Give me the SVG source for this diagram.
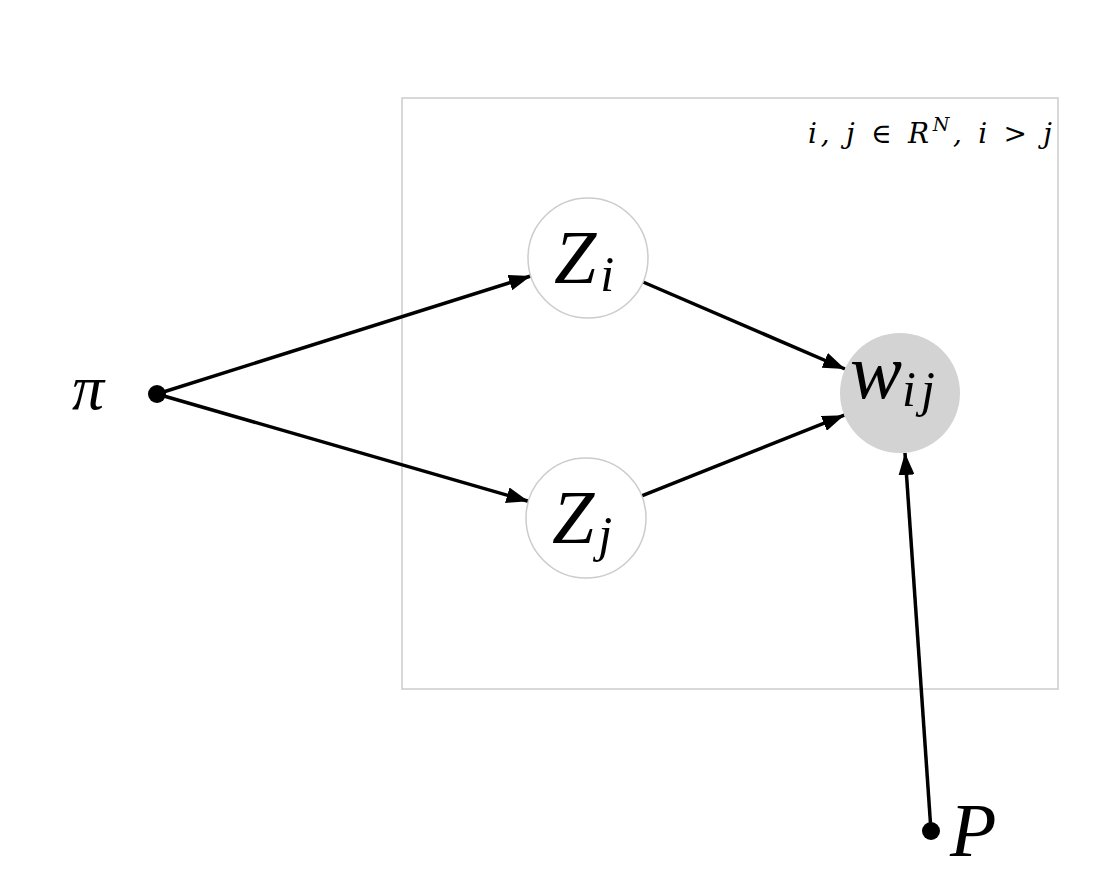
<svg xmlns="http://www.w3.org/2000/svg" width="1100" height="876" viewBox="0 0 1100 876">
<style>
.plate{fill:none;stroke:#cccccc;stroke-width:1.5}
.node{fill:#ffffff;stroke:#cccccc;stroke-width:1.5}
.obs{fill:#d3d3d3;stroke:none}
.edge{fill:none;stroke:#000;stroke-width:3.5}
.dot{fill:#000}
.m{font-family:"Liberation Serif","DejaVu Serif",serif;font-style:italic;fill:#000}
.lbl{font-family:"DejaVu Serif","Liberation Serif",serif;font-style:italic;fill:#000}
</style>
<defs>
<marker id="arr" viewBox="0 0 22 16" refX="22" refY="8" markerWidth="22" markerHeight="16" markerUnits="userSpaceOnUse" orient="auto">
<path d="M0,0 L22,8 L0,16 Z" fill="#000"/>
</marker>
</defs>
<rect width="1100" height="876" fill="#fff"/>
<g id="plate">
<rect class="plate" x="402" y="98" width="656" height="591"/>
<text class="lbl" x="808" y="143" font-size="28" textLength="244" lengthAdjust="spacing">i, j ∈ R<tspan font-size="19" dy="-12">N</tspan><tspan dy="12">, i &gt; j</tspan></text>
</g>
<g id="connectors">
<line class="edge" x1="157" y1="394" x2="530.8" y2="276" marker-end="url(#arr)"/>
<line class="edge" x1="157" y1="394" x2="528.4" y2="501.3" marker-end="url(#arr)"/>
<line class="edge" x1="643" y1="282" x2="845" y2="369" marker-end="url(#arr)"/>
<line class="edge" x1="641.7" y1="495.8" x2="844.3" y2="415.2" marker-end="url(#arr)"/>
<line class="edge" x1="931" y1="831" x2="905" y2="453" marker-end="url(#arr)"/>
</g>
<g id="node-pi">
<circle class="dot" cx="157" cy="394" r="9"/>
<text class="m" x="72" y="409" font-size="64" font-style="normal">π</text>
</g>
<g id="node-Zi">
<circle class="node" cx="588" cy="258" r="60"/>
<text class="m" x="554" y="283" font-size="76">Z<tspan font-size="50" dx="4" dy="8">i</tspan></text>
</g>
<g id="node-Zj">
<circle class="node" cx="586" cy="518" r="60"/>
<text class="m" x="552" y="543" font-size="76">Z<tspan font-size="50" dx="4" dy="8">j</tspan></text>
</g>
<g id="node-wij">
<circle class="obs" cx="900" cy="393" r="60"/>
<text class="m" x="850" y="398" font-size="78">w<tspan font-size="50" dy="8" letter-spacing="5">ij</tspan></text>
</g>
<g id="node-P">
<circle class="dot" cx="931" cy="831" r="9"/>
<text class="m" x="950" y="856" font-size="76">P</text>
</g>
</svg>
